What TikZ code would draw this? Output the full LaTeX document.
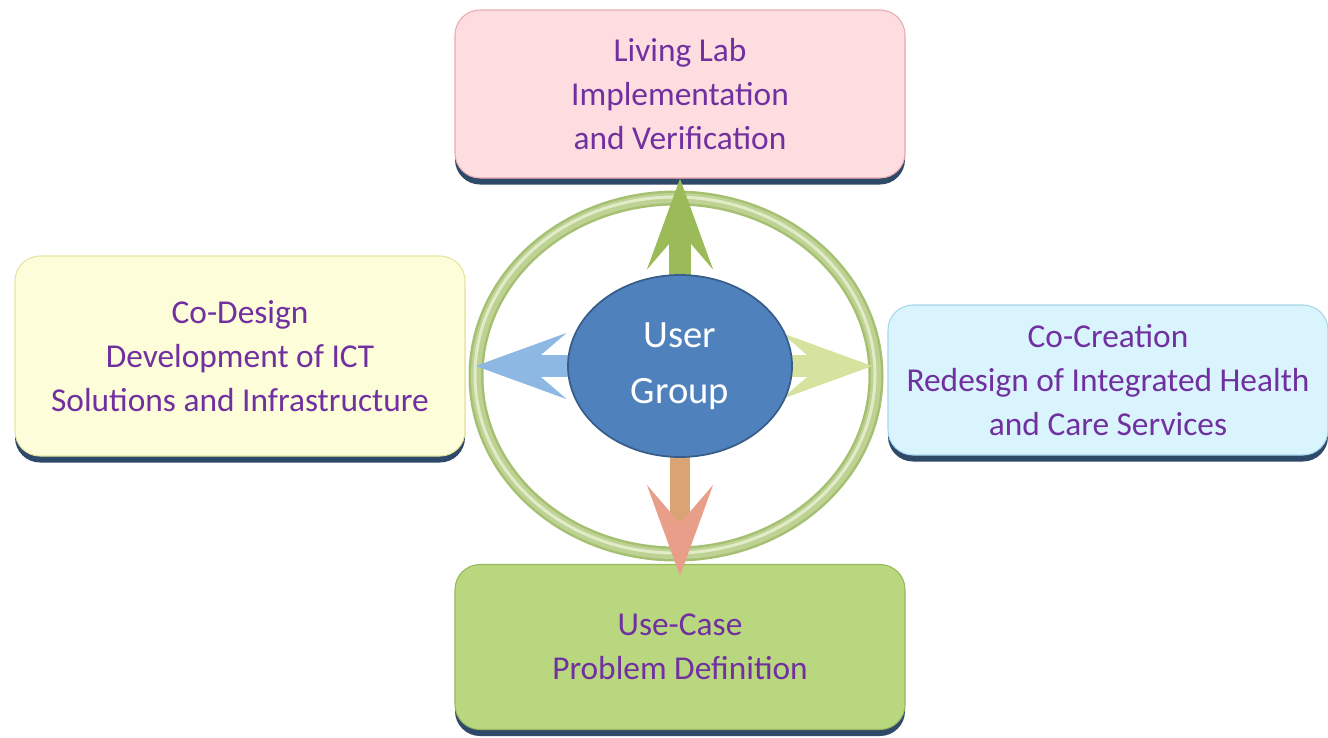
\documentclass[tikz,border=0pt]{standalone}
\usepackage{fontspec}
\setmainfont{Carlito}
\usetikzlibrary{arrows.meta,shadows,calc,shapes.geometric}

\definecolor{labeltext}{HTML}{7030A0}
\definecolor{boxshadow}{HTML}{243F60}
\definecolor{pinkfill}{HTML}{FDDDE0}
\definecolor{pinkline}{HTML}{E8A9AF}
\definecolor{yellowfill}{HTML}{FEFDD9}
\definecolor{yellowline}{HTML}{E6E3A0}
\definecolor{bluefill}{HTML}{D9F4FD}
\definecolor{blueline}{HTML}{A5D5EA}
\definecolor{greenfill}{HTML}{B9D77E}
\definecolor{greenline}{HTML}{98B85E}
\definecolor{ringouter}{HTML}{A6C072}
\definecolor{ringmid}{HTML}{BED293}
\definecolor{ringinner}{HTML}{E2EBC8}
\definecolor{hubfill}{HTML}{4F81BD}
\definecolor{hubline}{HTML}{385D8A}
\definecolor{uparrow}{HTML}{9BBB59}
\definecolor{leftarrow}{HTML}{8DB8E4}
\definecolor{rightarrow}{HTML}{D5E39E}
\definecolor{downshaft}{HTML}{D9A374}
\definecolor{downhead}{HTML}{E89E88}

\tikzset{
  stagebox/.style={rounded corners=0.5cm, minimum width=9cm, align=center,
    text=labeltext, font=\fontsize{19}{25}\selectfont, line width=0.6pt,
    drop shadow={shadow xshift=0cm, shadow yshift=-0.13cm, fill=boxshadow, opacity=0.95}},
  flowarrow/.style={line width=0.45cm,
    -{Stealth[length=1.8cm, width=1.3cm, inset=0.75cm]}}
}

\begin{document}
\begin{tikzpicture}
    \useasboundingbox (0,0) rectangle (26.56,-14.74);

    % Draw the four stages.
    \node[stagebox, fill=pinkfill, draw=pinkline, minimum height=3.36cm] (top) at (13.6,-1.88)
      {Living Lab\\Implementation\\and Verification};
    \node[stagebox, fill=yellowfill, draw=yellowline, minimum height=4.0cm] (lbox) at (4.8,-7.12)
      {Co-Design\\Development of ICT\\Solutions and Infrastructure};
    \node[stagebox, fill=bluefill, draw=blueline, minimum width=8.8cm, minimum height=3.0cm] (rbox) at (22.16,-7.6)
      {Co-Creation\\Redesign of Integrated Health\\and Care Services};
    \node[stagebox, fill=greenfill, draw=greenline, minimum height=3.3cm] (bottom) at (13.6,-12.94)
      {Use-Case\\Problem Definition};

    % Draw the ring.
    \draw[ringouter, line width=0.3cm] (13.52,-7.52) ellipse (4.0cm and 3.56cm);
    \draw[ringmid, line width=0.2cm] (13.52,-7.52) ellipse (4.0cm and 3.56cm);
    \draw[ringinner, line width=0.06cm] (13.5,-7.5) ellipse (4.0cm and 3.56cm);

    % Draw the arrows.
    \coordinate (hub) at (13.6,-7.32);
    \draw[flowarrow, uparrow] (hub) -- (top);
    \draw[flowarrow, leftarrow, shorten >=0.2cm] (hub) -- (hub -| lbox.east);
    \draw[flowarrow, rightarrow, shorten >=0.3cm] (hub) -- (hub -| rbox.west);
    \draw[line width=0.4cm, downshaft, -{Stealth[length=1.8cm, width=1.3cm, inset=0.75cm, fill=downhead, color=downhead]},
      shorten >=-0.24cm] (hub) -- (bottom);

    % Draw the user group.
    \node[ellipse, fill=hubfill, draw=hubline, line width=1pt, minimum width=4.48cm, minimum height=3.64cm,
      inner sep=0pt, align=center, text=white, font=\fontsize{22}{32}\selectfont] (ug) at (hub)
      {User\\Group};
\end{tikzpicture}
\end{document}
